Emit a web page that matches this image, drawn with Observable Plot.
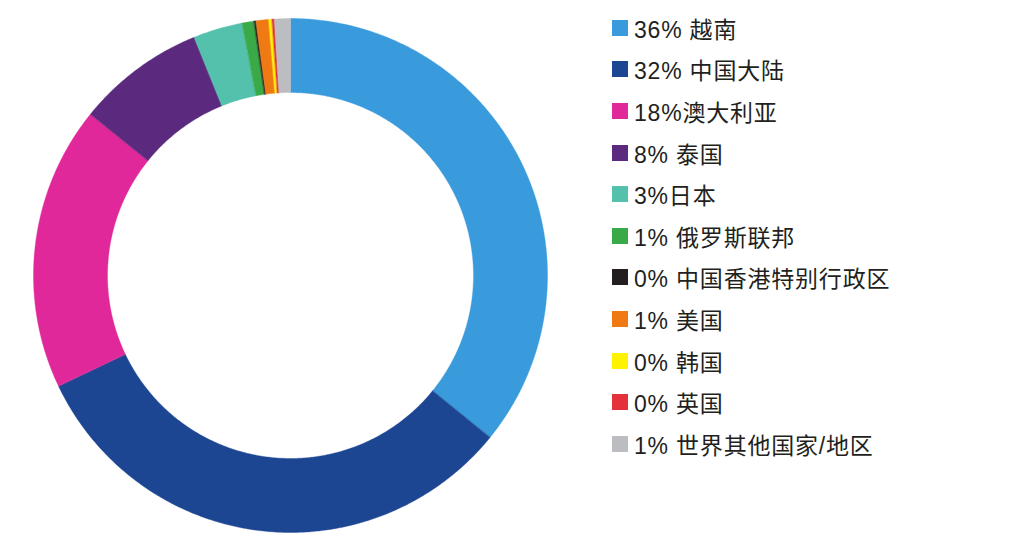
<!DOCTYPE html>
<html>
<head>
<meta charset="utf-8">
<script src="https://cdn.jsdelivr.net/npm/d3@7"></script>
<script src="https://cdn.jsdelivr.net/npm/@observablehq/plot@0.6"></script>
<style>
  body { margin: 0; background: #fff; font-family: "Liberation Sans", "Noto Sans CJK SC", sans-serif; }
  #wrap { position: relative; width: 1016px; height: 550px; }
  #chart { position: absolute; left: 0; top: 0; }
  #legend { position: absolute; left: 612px; top: 7px; }
  .row { display: flex; align-items: center; height: 41.6px; font-size: 23px; letter-spacing: 0.8px; color: #231f20; white-space: pre; }
  .sw { width: 16px; height: 16px; margin-right: 6px; flex: none; }
</style>
</head>
<body>
<div id="wrap"><div id="chart"></div><div id="legend"></div></div>
<script>
const categories = ["越南", "中国大陆", "澳大利亚", "泰国", "日本", "俄罗斯联邦", "中国香港特别行政区", "美国", "韩国", "英国", "世界其他国家/地区"];
const values = [35.9, 32.1, 17.9, 8.1, 3.1, 0.75, 0.12, 0.8, 0.2, 0.15, 1.0];
const legendLabels = ["36% 越南", "32% 中国大陆", "18%澳大利亚", "8% 泰国", "3%日本", "1% 俄罗斯联邦", "0% 中国香港特别行政区", "1% 美国", "0% 韩国", "0% 英国", "1% 世界其他国家/地区"];
const colors = ["#3a9bdc", "#1c4592", "#e0289a", "#5b2a7e", "#54c1ad", "#3aaa48", "#231f20", "#ef7a14", "#fff200", "#e4323c", "#bcbdc1"];

const innerR = 0.712;
const total = d3.sum(values);
const pts = [];
let acc = 0;
values.forEach((v, i) => {
  const a0 = acc / total * 2 * Math.PI;
  acc += v;
  const a1 = acc / total * 2 * Math.PI;
  const n = Math.max(2, Math.ceil((a1 - a0) / (Math.PI / 360)));
  const outer = [], inner = [];
  for (let k = 0; k <= n; k++) {
    const a = a0 + (a1 - a0) * k / n;
    outer.push({cat: categories[i], x: Math.sin(a), y: Math.cos(a)});
    inner.push({cat: categories[i], x: innerR * Math.sin(a), y: innerR * Math.cos(a)});
  }
  pts.push(...outer, ...inner.reverse());
});

const chart = Plot.plot({
  width: 1016,
  height: 550,
  margin: 0,
  x: {domain: [-1, 1], range: [33, 547], axis: null},
  y: {domain: [-1, 1], range: [532, 18], axis: null},
  color: {domain: categories, range: colors},
  marks: [
    Plot.line(pts, {x: "x", y: "y", z: "cat", fill: "cat", stroke: "cat", strokeWidth: 0.4, curve: "linear-closed"})
  ]
});
document.getElementById("chart").appendChild(chart);

const legend = d3.select("#legend");
legendLabels.forEach((t, i) => {
  const r = legend.append("div").attr("class", "row");
  r.append("div").attr("class", "sw").style("background", colors[i]);
  r.append("span").text(t);
});
</script>
</body>
</html>
